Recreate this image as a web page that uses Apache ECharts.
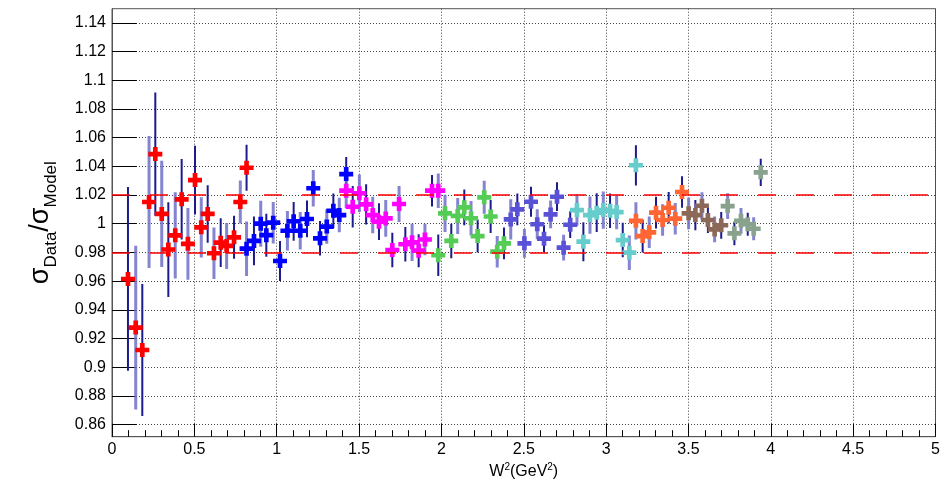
<!DOCTYPE html>
<html>
<head>
<meta charset="utf-8">
<script src="https://cdn.jsdelivr.net/npm/echarts@6/dist/echarts.min.js"></script>
<style>
html,body{margin:0;padding:0;background:#fff;}
#chart{width:946px;height:483px;}
</style>
</head>
<body>
<div id="chart"></div>
<script>
// ---- data ----
var redX = [0.097,0.144,0.184,0.225,0.263,0.302,0.342,0.384,0.423,0.461,0.504,0.542,0.581,0.619,0.660,0.696,0.741,0.779,0.817];
var redY = [0.9615,0.9276,0.912,1.0151,1.0485,1.0068,0.982,0.9919,1.017,0.986,1.0304,0.9975,1.0068,0.9794,0.9868,0.9845,0.9905,1.0151,1.039];
var redE = [0.064,0.057,0.046,0.046,0.043,0.037,0.033,0.030,0.028,0.025,0.024,0.021,0.020,0.018,0.017,0.016,0.015,0.015,0.016];

var blueX = [0.817,0.862,0.903,0.937,0.979,1.020,1.065,1.103,1.143,1.184,1.222,1.263,1.304,1.344,1.380,1.422];
var blueY = [0.9826,0.988,1.000,0.992,1.0007,0.974,0.9951,1.0017,0.9951,1.0033,1.0247,0.9898,0.998,1.009,1.006,1.0346];
var blueE = [0.019,0.017,0.016,0.015,0.0145,0.014,0.0137,0.0135,0.013,0.0128,0.0128,0.012,0.012,0.012,0.012,0.0118];

var magX = [1.422,1.4615,1.502,1.543,1.583,1.621,1.662,1.702,1.743,1.781,1.822,1.862,1.900,1.943,1.981];
var magY = [1.023,1.0118,1.0212,1.0135,1.006,1.0014,1.0037,0.9817,1.0137,0.9857,0.987,0.9812,0.989,1.023,1.023];
var magE = [0.012,0.0145,0.013,0.014,0.0127,0.0128,0.0128,0.012,0.0125,0.012,0.013,0.0115,0.011,0.011,0.012];

var greenX = [1.981,2.022,2.060,2.099,2.139,2.180,2.220,2.260,2.299,2.339,2.380];
var greenY = [0.978,1.0072,0.988,1.0054,1.0114,1.0038,0.9914,1.0184,1.005,0.9805,0.9863];
var greenE = [0.0145,0.013,0.012,0.0125,0.0125,0.012,0.0115,0.0115,0.0115,0.011,0.011];

var slateX = [2.421,2.461,2.504,2.544,2.582,2.623,2.663,2.702,2.742,2.782];
var slateY = [1.003,1.010,0.9863,1.0153,0.9996,0.9896,1.0065,1.0188,0.9833,0.9993];
var slateE = [0.014,0.011,0.010,0.0105,0.0105,0.0095,0.0097,0.010,0.009,0.0093];

var cyanX = [2.823,2.862,2.902,2.943,2.983,3.024,3.064,3.101,3.141,3.181];
var cyanY = [1.0095,0.9875,1.006,1.0077,1.0095,1.009,1.0081,0.9886,0.9798,1.0407];
var cyanE = [0.011,0.0136,0.013,0.0135,0.013,0.012,0.012,0.012,0.012,0.014];

var orangeX = [3.181,3.222,3.262,3.303,3.343,3.380,3.420,3.461];
var orangeY = [1.002,0.9914,0.994,1.0077,1.0026,1.0111,1.0035,1.0221];
var orangeE = [0.013,0.0115,0.011,0.011,0.011,0.011,0.011,0.011];

var brownX = [3.501,3.542,3.582,3.618,3.659,3.699];
var brownY = [1.0072,1.006,1.0125,1.0026,0.996,0.9989];
var brownE = [0.011,0.0105,0.0095,0.009,0.009,0.0093];

var sageX = [3.738,3.779,3.819,3.860,3.896,3.939];
var sageY = [1.0123,0.9933,1.002,0.9996,0.9965,1.0358];
var sageE = [0.009,0.0083,0.009,0.008,0.008,0.0095];

var yTicks = [0.86,0.88,0.90,0.92,0.94,0.96,0.98,1.00,1.02,1.04,1.06,1.08,1.10,1.12,1.14];
var refLines = [0.98, 1.02];

// ---- styling / assembly ----
var groups = [
  {x: redX, y: redY, e: redE, color: '#ff0000'},
  {x: blueX, y: blueY, e: blueE, color: '#0000ff'},
  {x: magX, y: magY, e: magE, color: '#ff00ff'},
  {x: greenX, y: greenY, e: greenE, color: '#55cc55'},
  {x: slateX, y: slateY, e: slateE, color: '#5a52d6'},
  {x: cyanX, y: cyanY, e: cyanE, color: '#66cccc'},
  {x: orangeX, y: orangeY, e: orangeE, color: '#ff6633'},
  {x: brownX, y: brownY, e: brownE, color: '#8c6858'},
  {x: sageX, y: sageY, e: sageE, color: '#88a28e'}
];

var errData = [];
var k = 0;
groups.forEach(function(g){
  for (var i = 0; i < g.x.length; i++) {
    errData.push([g.x[i], g.y[i] - g.e[i], g.y[i] + g.e[i], k % 2]);
    k++;
  }
});

var plusPath = 'path://M4,0 H8 V4 H12 V8 H8 V12 H4 V8 H0 V4 H4 Z';
var FONT = '"Liberation Sans", Arial, Helvetica, sans-serif';

var series = [];
series.push({
  type: 'custom',
  z: 2,
  clip: true,
  silent: true,
  data: errData,
  encode: {x: 0, y: [1, 2]},
  renderItem: function(params, api){
    var x = api.value(0), lo = api.value(1), hi = api.value(2), alt = api.value(3);
    var p1 = api.coord([x, lo]), p2 = api.coord([x, hi]);
    return {
      type: 'line',
      shape: {x1: p1[0], y1: p1[1], x2: p2[0], y2: p2[1]},
      style: alt ? {stroke: 'rgba(110,110,200,0.85)', lineWidth: 3}
                 : {stroke: '#1b1b8e', lineWidth: 2}
    };
  },
  markLine: {
    silent: true,
    symbol: 'none',
    label: {show: false},
    lineStyle: {color: '#ff0000', width: 1.5, type: [18, 20]},
    data: refLines.map(function(v){ return {yAxis: v}; })
  }
});
groups.forEach(function(g){
  series.push({
    type: 'scatter',
    z: 3,
    symbol: plusPath,
    symbolSize: 14,
    itemStyle: {color: g.color, opacity: 1},
    silent: true,
    data: g.x.map(function(v, i){ return [v, g.y[i]]; })
  });
});

var chart = echarts.init(document.getElementById('chart'), null, {renderer: 'canvas'});
chart.setOption({
  animation: false,
  backgroundColor: '#ffffff',
  grid: {
    left: 112, right: 10.5, top: 8.7, bottom: 46.3,
    show: true, borderColor: '#555', borderWidth: 1,
    containLabel: false, outerBoundsMode: 'none'
  },
  xAxis: {
    type: 'value',
    min: 0, max: 5, interval: 0.5,
    name: 'W{sup|2}(GeV{sup|2})',
    nameLocation: 'middle',
    nameGap: 20,
    nameTextStyle: {
      fontFamily: FONT, fontSize: 16, color: '#000',
      rich: {sup: {fontFamily: FONT, fontSize: 10, color: '#000', verticalAlign: 'top', padding: [0,0,7,0]}}
    },
    axisLine: {show: true, onZero: false, lineStyle: {color: '#555', width: 1}},
    axisTick: {show: true, inside: true, length: 13, lineStyle: {color: '#000', width: 1}},
    minorTick: {show: true, splitNumber: 5, length: 6.5, lineStyle: {color: '#000', width: 1}},
    axisLabel: {
      fontFamily: FONT, fontSize: 16, color: '#000', margin: 5,
      showMinLabel: true, showMaxLabel: true, hideOverlap: false
    },
    splitLine: {show: true, lineStyle: {color: '#444', width: 1, type: [1, 2]}},
    minorSplitLine: {show: false}
  },
  yAxis: {
    type: 'value',
    min: 0.8516, max: 1.1498,
    name: '{s|σ}{sub|Data}{s|/σ}{sub|Model}',
    nameLocation: 'middle',
    nameRotate: 90,
    nameGap: 58,
    nameTextStyle: {
      fontFamily: FONT, fontSize: 26, color: '#000',
      rich: {
        s: {fontFamily: FONT, fontSize: 27, color: '#000', verticalAlign: 'bottom'},
        sub: {fontFamily: FONT, fontSize: 17, color: '#000', verticalAlign: 'bottom', padding: [0,0,-6,0]}
      }
    },
    axisLine: {show: true, onZero: false, lineStyle: {color: '#555', width: 1}},
    axisTick: {show: true, inside: true, length: 24.7, customValues: yTicks, lineStyle: {color: '#000', width: 1}},
    axisLabel: {
      fontFamily: FONT, fontSize: 16, color: '#000', margin: 6,
      customValues: yTicks,
      formatter: function(v){ return String(Math.round(v * 100) / 100); }
    },
    splitLine: {show: true, lineStyle: {color: '#444', width: 1, type: [1, 2]}}
  },
  series: series
});
</script>
</body>
</html>
